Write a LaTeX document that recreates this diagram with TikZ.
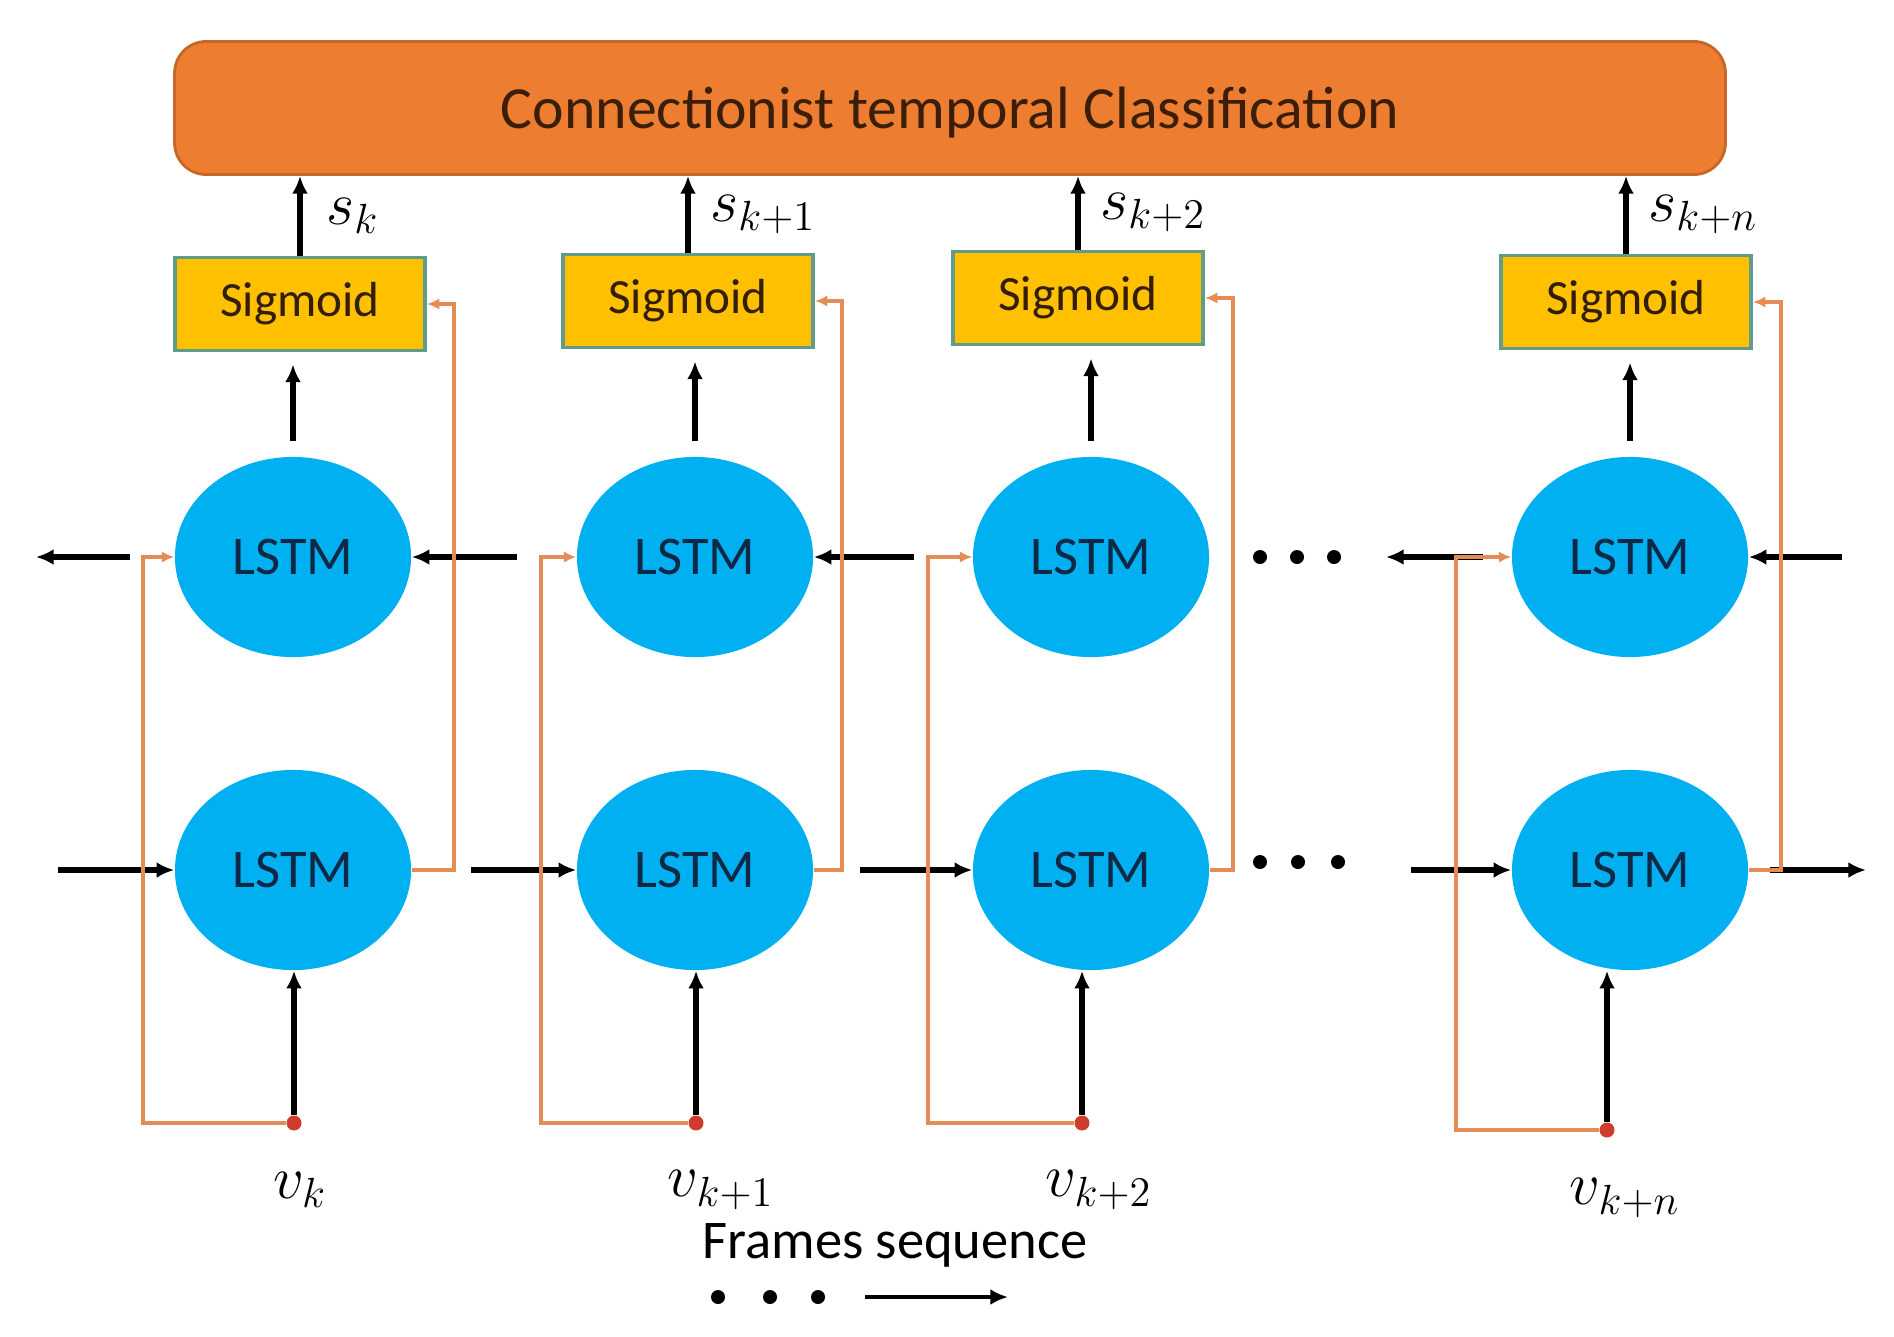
\documentclass[tikz,border=0pt]{standalone}
\usepackage{fontspec}
\setmainfont{Carlito}
\usetikzlibrary{shapes.geometric,arrows.meta}
\definecolor{CTCOrange}{RGB}{237,125,49}
\definecolor{CTCEdge}{RGB}{200,102,38}
\definecolor{CTCText}{RGB}{58,30,10}
\definecolor{SigYellow}{RGB}{255,192,0}
\definecolor{SigEdge}{RGB}{96,156,140}
\definecolor{SigText}{RGB}{50,30,10}
\definecolor{LSTMBlue}{RGB}{0,176,240}
\definecolor{LSTMText}{RGB}{15,40,70}
\definecolor{SkipOrange}{RGB}{228,140,84}
\definecolor{DotRed}{RGB}{205,60,45}

\begin{document}
\begin{tikzpicture}[
    x=0.01cm,
    y=-0.01cm,
    arrow/.style={
        -{Latex[length=5pt,width=4.5pt]},
        line width=1.5pt,
        draw=black
    },
    skip/.style={
        -{Latex[length=3.5pt,width=3.2pt]},
        line width=0.9pt,
        draw=SkipOrange
    },
    ctcbox/.style={
        draw=CTCEdge,
        fill=CTCOrange,
        line width=0.8pt,
        rounded corners=9pt,
        minimum width=15.5cm,
        minimum height=1.33cm,
        text depth=0pt,
        text=CTCText,
        font=\fontsize{17}{20}\selectfont
    },
    sigbox/.style={
        draw=SigEdge,
        fill=SigYellow,
        line width=1.1pt,
        minimum width=2.5cm,
        minimum height=0.93cm,
        text=SigText,
        font=\fontsize{14}{17}\selectfont
    },
    lstm/.style={
        ellipse,
        fill=LSTMBlue,
        inner sep=0pt,
        minimum width=2.36cm,
        minimum height=2.0cm,
        text=LSTMText,
        font=\fontsize{15.5}{18}\selectfont
    },
    indot/.style={
        circle,
        fill=DotRed,
        inner sep=0pt,
        minimum size=0.15cm
    },
    mathlab/.style={
        font=\fontsize{17}{20}\selectfont
    }
]
\useasboundingbox (0,0) rectangle (1894,1336);

% =========================
% Output layer
% =========================
\node[ctcbox] (ctc) at (950,108) {Connectionist temporal Classification};

% =========================
% Sigmoid row
% =========================
\node[sigbox] (sg1) at (300,304) {Sigmoid};
\node[sigbox] (sg2) at (688,301) {Sigmoid};
\node[sigbox] (sg3) at (1078,298) {Sigmoid};
\node[sigbox] (sg4) at (1626,302) {Sigmoid};

\draw[arrow] (sg1.north) -- (sg1.north |- ctc.south) node[midway,right=0.12cm,mathlab] {$s_k$};
\draw[arrow] (sg2.north) -- (sg2.north |- ctc.south) node[midway,right=0.08cm,mathlab] {$s_{k+1}$};
\draw[arrow] (sg3.north) -- (sg3.north |- ctc.south) node[midway,right=0.08cm,mathlab] {$s_{k+2}$};
\draw[arrow] (sg4.north) -- (sg4.north |- ctc.south) node[midway,right=0.08cm,mathlab] {$s_{k+n}$};

% =========================
% Backward LSTM row
% =========================
\node[lstm] (lu1) at (293,557) {LSTM};
\node[lstm] (lu2) at (695,557) {LSTM};
\node[lstm] (lu3) at (1091,557) {LSTM};
\node[lstm] (lu4) at (1630,557) {LSTM};

\draw[arrow, shorten <=0.15cm, shorten >=0.12cm] (lu1.north) -- (lu1.north |- sg1.south);
\draw[arrow, shorten <=0.15cm, shorten >=0.12cm] (lu2.north) -- (lu2.north |- sg2.south);
\draw[arrow, shorten <=0.15cm, shorten >=0.12cm] (lu3.north) -- (lu3.north |- sg3.south);
\draw[arrow, shorten <=0.15cm, shorten >=0.12cm] (lu4.north) -- (lu4.north |- sg4.south);

\coordinate (bwA) at (130,557);
\coordinate (bwB) at (36,557);
\coordinate (bw1) at (517,557);
\coordinate (bw2) at (914,557);
\coordinate (bwC) at (1483,557);
\coordinate (bwD) at (1386,557);
\coordinate (bw4) at (1842,557);

\draw[arrow] (bwA) -- (bwB);
\draw[arrow] (bw1) -- (lu1.east);
\draw[arrow] (bw2) -- (lu2.east);
\draw[arrow] (bwC) -- (bwD);
\draw[arrow] (bw4) -- (lu4.east);

\fill (1260,557) circle (0.07cm) (1297,557) circle (0.07cm) (1334,557) circle (0.07cm);

% =========================
% Forward LSTM row
% =========================
\node[lstm] (ll1) at (293,870) {LSTM};
\node[lstm] (ll2) at (695,870) {LSTM};
\node[lstm] (ll3) at (1091,870) {LSTM};
\node[lstm] (ll4) at (1630,870) {LSTM};

\coordinate (fwA) at (58,870);
\coordinate (fw1) at (471,870);
\coordinate (fw2) at (860,870);
\coordinate (fwC) at (1411,870);
\coordinate (fwD) at (1770,870);
\coordinate (fwE) at (1866,870);

\draw[arrow] (fwA) -- (ll1.west);
\draw[arrow] (fw1) -- (ll2.west);
\draw[arrow] (fw2) -- (ll3.west);
\draw[arrow] (fwC) -- (ll4.west);
\draw[arrow] (fwD) -- (fwE);

\fill (1260,862) circle (0.07cm) (1298,862) circle (0.07cm) (1338,862) circle (0.07cm);

% forward output to sigmoid
\draw[skip] (ll1.east) -| ([xshift=0.27cm]sg1.east) -- (sg1.east);
\draw[skip] (ll2.east) -| ([xshift=0.27cm]sg2.east) -- (sg2.east);
\draw[skip] (ll3.east) -| ([xshift=0.28cm]sg3.east) -- (sg3.east);
\draw[skip] (ll4.east) -| ([xshift=0.28cm]sg4.east) -- (sg4.east);

% =========================
% Frame inputs
% =========================
\node[indot] (in1) at (294,1123) {};
\node[indot] (in2) at (696,1123) {};
\node[indot] (in3) at (1082,1123) {};
\node[indot] (in4) at (1607,1130) {};

\coordinate (bl1) at (143,1123);
\coordinate (bl2) at (541,1123);
\coordinate (bl3) at (928,1123);
\coordinate (bl4) at (1456,1130);

\draw[skip] (in1) -- (bl1) |- (lu1.west);
\draw[skip] (in2) -- (bl2) |- (lu2.west);
\draw[skip] (in3) -- (bl3) |- (lu3.west);
\draw[skip] (in4) -- (bl4) |- (lu4.west);

\draw[arrow] (in1) -- (in1 |- ll1.south);
\draw[arrow] (in2) -- (in2 |- ll2.south);
\draw[arrow] (in3) -- (in3 |- ll3.south);
\draw[arrow] (in4) -- (in4 |- ll4.south);

\node[mathlab] (v1) at (300,1190) {$v_k$};
\node[mathlab] (v2) at (721,1190) {$v_{k+1}$};
\node[mathlab] (v3) at (1099,1190) {$v_{k+2}$};
\node[mathlab] (v4) at (1625,1198) {$v_{k+n}$};

% =========================
% Time direction
% =========================
\node[font=\fontsize{15.5}{18}\selectfont] (frames) at (895,1245) {Frames sequence};
\fill (718,1297) circle (0.07cm) (770,1297) circle (0.07cm) (818,1297) circle (0.07cm);
\coordinate (fs1) at (865,1297);
\coordinate (fs2) at (1008,1297);
\draw[arrow, line width=1.3pt] (fs1) -- (fs2);

\end{tikzpicture}
\end{document}
